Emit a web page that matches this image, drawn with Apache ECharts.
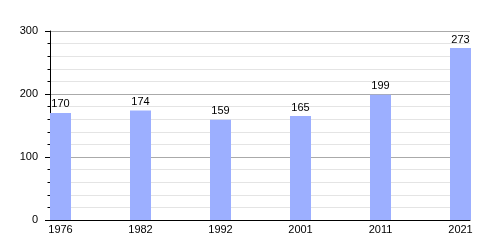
<!DOCTYPE html>
<html>
<head>
<meta charset="utf-8">
<script src="https://cdn.jsdelivr.net/npm/echarts@6/dist/echarts.min.js"></script>
<style>html,body{margin:0;padding:0;background:#fff;}#c{width:500px;height:250px;}</style>
</head>
<body>
<div id="c"></div>
<script>
var categories = ['1976', '1982', '1992', '2001', '2011', '2021'];
var values = [170, 174, 159, 165, 199, 273];
var yTicks = [0, 100, 200, 300];

var chart = echarts.init(document.getElementById('c'), null, {renderer: 'canvas'});
var font = 'Liberation Sans, Arial, sans-serif';
chart.setOption({
  animation: false,
  backgroundColor: '#fff',
  grid: [
    {left: 50, right: 30, top: 31, bottom: 30, containLabel: false},
    {left: 60.5, right: 39.5, top: 31, bottom: 30, containLabel: false}
  ],
  xAxis: [
    {gridIndex: 0, type: 'value', min: 0, max: 1, show: true,
     axisLine: {show: true, lineStyle: {color: '#000', width: 1}},
     axisTick: {show: false}, axisLabel: {show: false}, splitLine: {show: false}},
    {gridIndex: 1, type: 'category', data: categories, boundaryGap: false,
     axisLine: {show: false}, axisTick: {show: false},
     axisLabel: {color: '#000', fontSize: 11, fontFamily: font, margin: 4}}
  ],
  yAxis: [
    {gridIndex: 0, type: 'value', min: yTicks[0], max: yTicks[yTicks.length - 1], interval: 100,
     axisLine: {show: true, lineStyle: {color: '#000'}},
     axisTick: {show: true, length: 5, inside: false, lineStyle: {color: '#000'}},
     minorTick: {show: true, splitNumber: 5, length: 2.5, lineStyle: {color: '#000'}},
     axisLabel: {color: '#000', fontSize: 11, fontFamily: font, margin: 12},
     splitLine: {show: true, lineStyle: {color: '#aaaaaa', width: 1}},
     minorSplitLine: {show: true, lineStyle: {color: '#e4e4e4', width: 1}}},
    {gridIndex: 1, type: 'value', min: yTicks[0], max: yTicks[yTicks.length - 1], show: false}
  ],
  series: [{
    type: 'bar', xAxisIndex: 1, yAxisIndex: 1, data: values, barWidth: 21, z: 5,
    itemStyle: {color: '#9cafff'},
    label: {show: true, position: 'top', distance: 3, color: '#000', fontSize: 11, fontFamily: font}
  }]
});
</script>
</body>
</html>
